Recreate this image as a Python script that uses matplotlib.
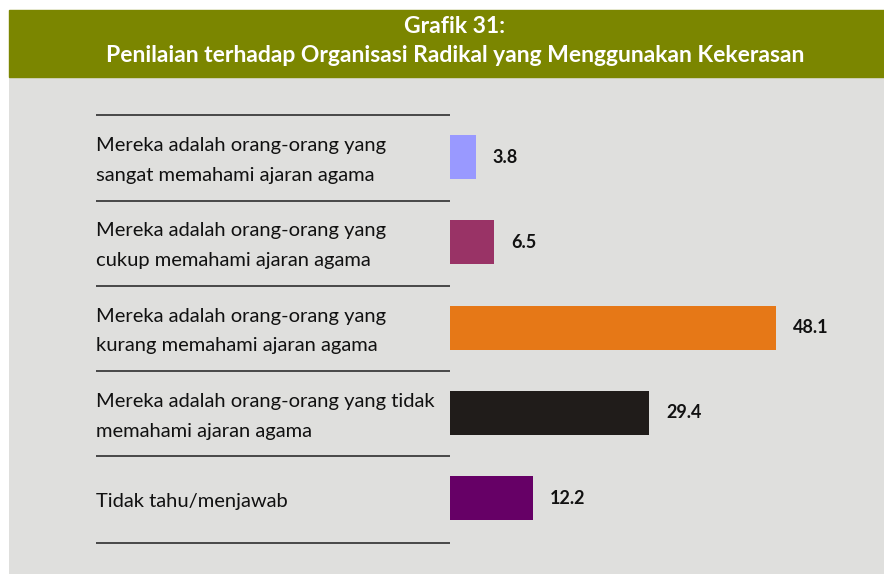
import numpy as np
import matplotlib.pyplot as plt
from matplotlib.patches import Rectangle

# data
labels = [
    'Mereka adalah orang-orang yang\nsangat memahami ajaran agama',
    'Mereka adalah orang-orang yang\ncukup memahami ajaran agama',
    'Mereka adalah orang-orang yang\nkurang memahami ajaran agama',
    'Mereka adalah orang-orang yang tidak\nmemahami ajaran agama',
    'Tidak tahu/menjawab',
]
values = [3.8, 6.5, 48.1, 29.4, 12.2]
colors = ['#9999ff', '#993366', '#e67817', '#201c1a', '#660066']
title_1 = 'Grafik 31:'
title_2 = 'Penilaian terhadap Organisasi Radikal yang Menggunakan Kekerasan'

W, H = 884, 574
fig = plt.figure(figsize=(W / 100, H / 100), dpi=100)
fig.patch.set_facecolor('white')

# header band
fig.patches.append(Rectangle((9 / W, 1 - 77 / H), (W - 9) / W, 67 / H,
                             transform=fig.transFigure, color='#7b8600', zorder=0))
fig.text(455 / W, 1 - 33 / H, title_1, ha='center', va='baseline', color='white',
         fontsize=16.5, fontweight='bold', family='Lato')
fig.text(455 / W, 1 - 62 / H, title_2, ha='center', va='baseline', color='white',
         fontsize=16.5, fontweight='bold', family='Lato')

# gray panel holds the bars
ax = fig.add_axes([9 / W, 0, (W - 9) / W, (574 - 77) / H])
ax.set_facecolor('#dfdfdd')
px = 6.777  # pixels per unit
ax.set_xlim((9 - 450) / px, (W - 450) / px)
ax.set_ylim(4.889, -0.938)
for s in ax.spines.values():
    s.set_visible(False)
ax.set_xticks([])
ax.set_yticks([])

y = np.arange(len(values))
ax.barh(y, values, height=0.516, color=colors, zorder=2)

# separators
seps = np.append(y - 0.49, 4.525)
ax.hlines(seps, (96 - 450) / px, 0, color='#3c3c3c', lw=1.3)

for i, (lab, v) in enumerate(zip(labels, values)):
    ax.text((96 - 450) / px, i + 0.04, lab, ha='left', va='center', fontsize=14.5,
            family='Lato', color='#111111', linespacing=1.9)
    ax.text(v + 2.5, i, f'{v}', ha='left', va='center', fontsize=13,
            fontweight='bold', family='Lato', color='#111111')

fig.savefig('out.png', dpi=100)
